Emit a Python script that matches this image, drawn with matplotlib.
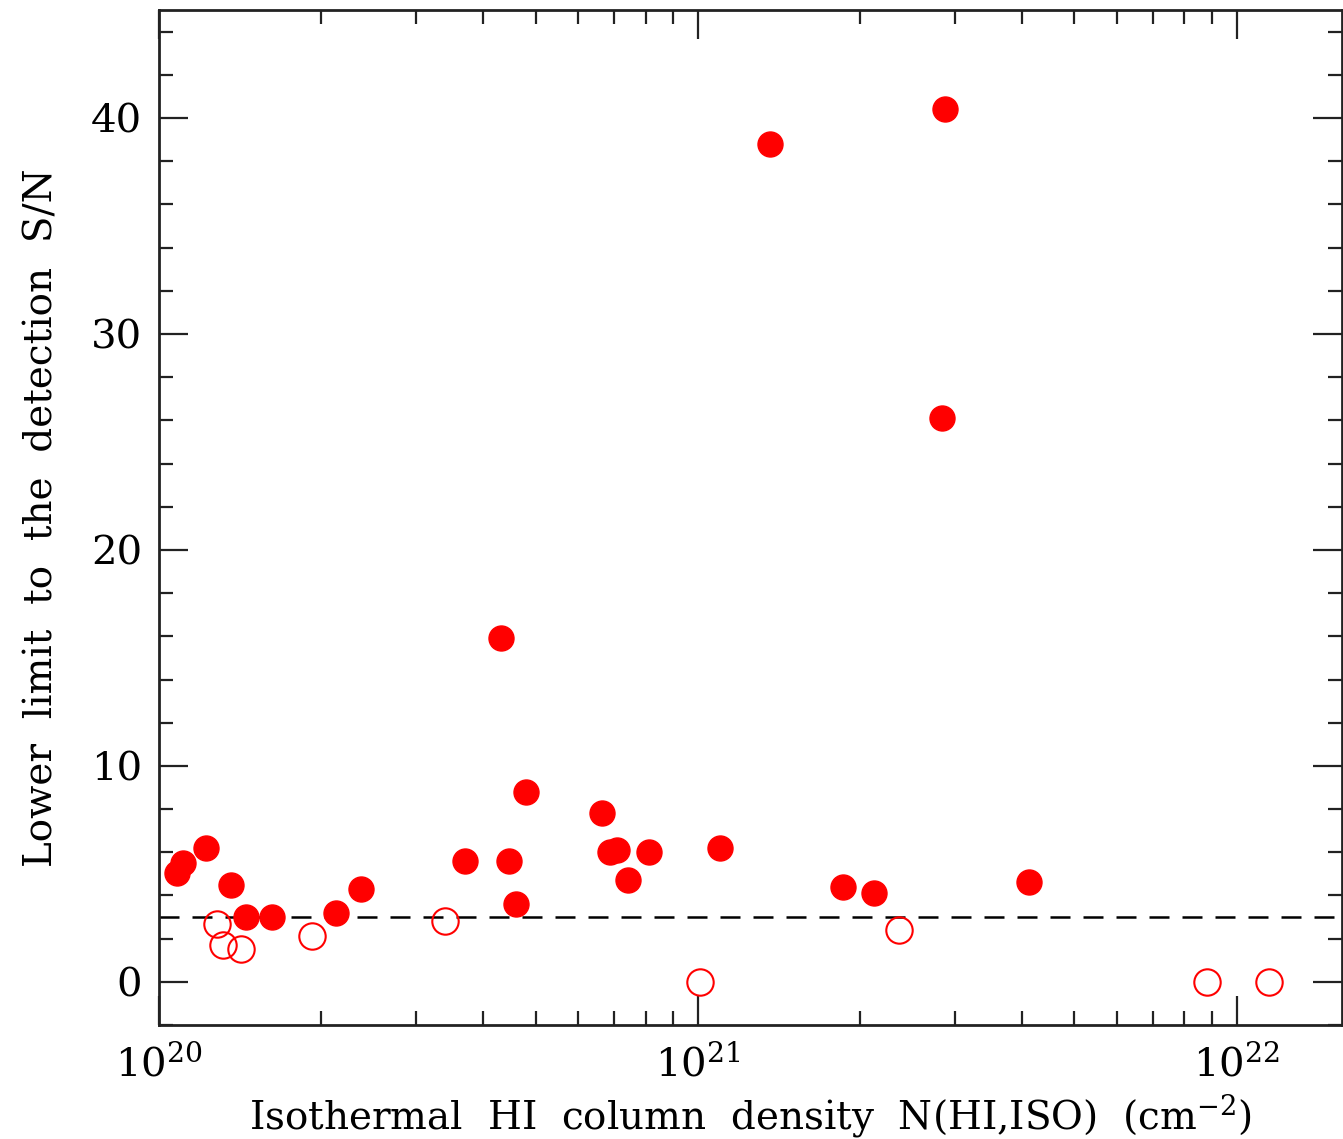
import numpy as np
import matplotlib
matplotlib.use("Agg")
import matplotlib.pyplot as plt
from matplotlib.ticker import MultipleLocator, LogLocator

# detections (filled) and non-detections (open)
n_filled = [1.08e20, 1.11e20, 1.22e20, 1.36e20, 1.45e20, 1.62e20, 2.13e20, 2.37e20,
            3.69e20, 4.32e20, 4.47e20, 4.59e20, 4.79e20, 6.63e20, 6.86e20, 7.07e20,
            7.41e20, 8.11e20, 1.10e21, 1.36e21, 1.86e21, 2.12e21, 2.87e21, 2.84e21,
            4.12e21]
sn_filled = [5.05, 5.5, 6.2, 4.5, 3.0, 3.0, 3.2, 4.3,
             5.6, 15.9, 5.6, 3.6, 8.8, 7.8, 6.0, 6.1,
             4.7, 6.0, 6.2, 38.8, 4.4, 4.1, 40.4, 26.1,
             4.6]

n_open = [1.28e20, 1.315e20, 1.42e20, 1.92e20, 3.40e20, 1.01e21, 2.36e21, 8.8e21, 1.15e22]
sn_open = [2.7, 1.7, 1.5, 2.1, 2.8, 0.0, 2.4, 0.0, 0.0]

sn_limit = 3.0

plt.rcParams['font.family'] = ['DejaVu Serif']
plt.rcParams['mathtext.fontset'] = 'dejavuserif'

fig = plt.figure(figsize=(13.43, 11.39), dpi=100)
ax = fig.add_axes([0.1184, 0.1001, 0.881, 0.891])

ax.axhline(sn_limit, color='black', lw=1.8, ls=(0, (8, 5.2)), zorder=1)
ax.plot(n_filled, sn_filled, 'o', color='red', ms=18, mec='red', zorder=3)
ax.plot(n_open, sn_open, 'o', mfc='none', mec='red', ms=19, mew=1.5, zorder=3)

ax.set_xscale('log')
ax.set_xlim(1e20, 1.57e22)
ax.set_ylim(-2, 45)

ax.yaxis.set_major_locator(MultipleLocator(10))
ax.yaxis.set_minor_locator(MultipleLocator(2))
ax.xaxis.set_major_locator(LogLocator(base=10))
ax.xaxis.set_minor_locator(LogLocator(base=10, subs=np.arange(2, 10)))

ax.tick_params(which='both', direction='in', top=True, right=True, width=1.6, color='#222222')
ax.tick_params(which='major', length=21, labelsize=29, pad=14)
ax.tick_params(which='minor', length=10)
ax.tick_params(axis='y', which='major', pad=12)
for s in ax.spines.values():
    s.set_linewidth(2.0)
    s.set_color('#222222')

ax.set_xlabel('Isothermal  HI  column  density  N(HI,ISO)  (cm$^{-2}$)', fontsize=28, labelpad=6)
ax.set_ylabel('Lower  limit  to  the  detection  S/N', fontsize=28, labelpad=22)

fig.savefig('out.png', dpi=100)
